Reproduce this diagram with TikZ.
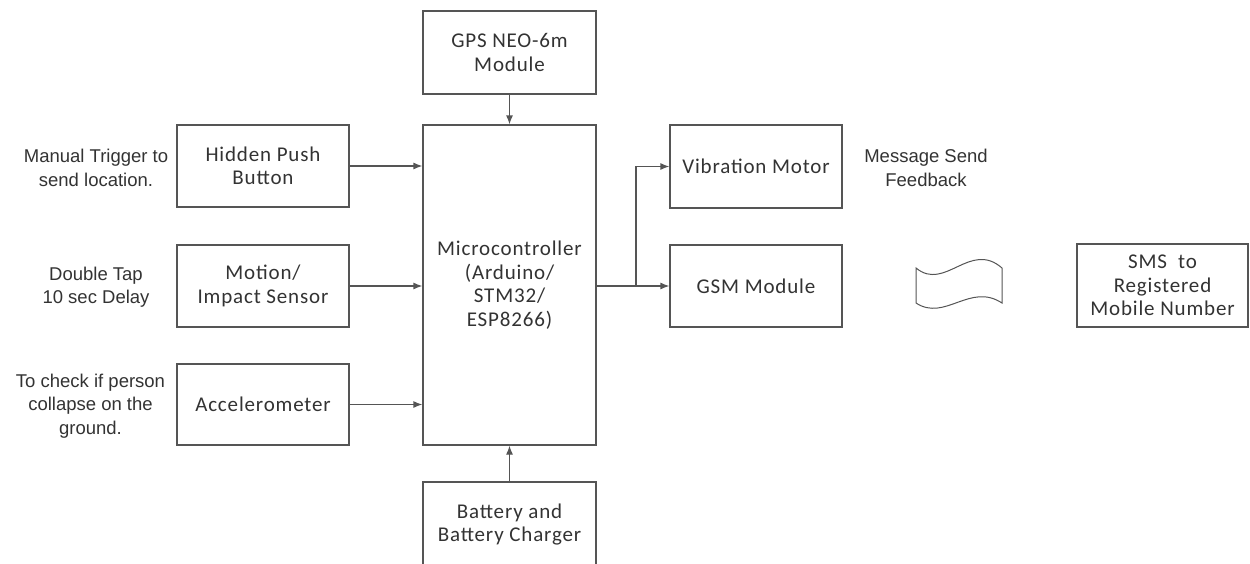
\documentclass[tikz,border=0pt]{standalone}
\usepackage{fontspec}
\setmainfont{Carlito}[LetterSpace=4]
\newfontfamily\labelfont{Liberation Sans}
\usetikzlibrary{arrows.meta}
\definecolor{ink}{HTML}{333333}
\definecolor{edge}{HTML}{555555}
\tikzset{
  block/.style={draw=edge, line width=1.2pt, fill=white, text=ink, align=center,
    inner sep=0pt, font=\fontsize{21}{23.5}\selectfont},
  note/.style={text=ink, align=center, inner sep=0pt,
    font=\labelfont\fontsize{18.5}{23.5}\selectfont},
  link/.style={draw=edge, line width=1.2pt, -{Latex[length=9pt,width=7pt]}},
  wire/.style={draw=edge, line width=1.2pt}
}
\begin{document}
\begin{tikzpicture}[x=1pt,y=-1pt]
\useasboundingbox[fill=white] (0,0) rectangle (1250,563);

% blocks
\node[block, minimum width=173pt, minimum height=83pt] (gps) at (509.5,52.5) {GPS NEO-6m\\Module};
\node[block, minimum width=173pt, minimum height=320pt] (mcu) at (509.5,285) {Microcontroller\\(Arduino/\\STM32/\\ESP8266)};
\node[block, minimum width=173pt, minimum height=85pt] (bat) at (509.5,524.5) {Battery and\\Battery Charger};
\node[block, minimum width=172pt, minimum height=82pt] (btn) at (263,166) {Hidden Push\\Button};
\node[block, minimum width=172pt, minimum height=82pt] (imp) at (263,286) {Motion/\\Impact Sensor};
\node[block, minimum width=172pt, minimum height=81pt] (acc) at (263,404.5) {Accelerometer};
\node[block, minimum width=172pt, minimum height=83pt] (vib) at (756,166.5) {Vibration Motor};
\node[block, minimum width=172pt, minimum height=82pt] (gsm) at (756,286) {GSM Module};
\node[block, minimum width=171pt, minimum height=83pt] (sms) at (1162.5,285.5) {SMS\ \ to\\Registered\\Mobile Number};

% side notes
\node[note] (nbtn) at (96,168) {Manual Trigger to\\send location.};
\node[note] (nimp) at (96,287) {Double Tap\\10 sec Delay};
\node[note] (nacc) at (90.5,406) {To check if person\\collapse on the\\ground.};
\node[note] (nvib) at (926,168) {Message Send\\Feedback};

% tape symbol between GSM and SMS
\draw[wire, line width=1pt] (916,268) .. controls (945,292) and (970,240) .. (1002,268)
  -- (1002,303) .. controls (970,282) and (945,322) .. (916,303) -- cycle;

% connections
\draw[link] (gps.south) -- (mcu.north);
\draw[link] (bat.north) -- (mcu.south);
\draw[link] (btn.east) -- (mcu.west |- btn.east);
\draw[link] (imp.east) -- (mcu.west |- imp.east);
\draw[link] (acc.east) -- (mcu.west |- acc.east);
\coordinate (split) at (636,286);
\draw[wire] (mcu.east |- split) -- (split);
\draw[link] (split) -- (gsm.west |- split);
\draw[link] (split) |- (vib.west);
\end{tikzpicture}
\end{document}
